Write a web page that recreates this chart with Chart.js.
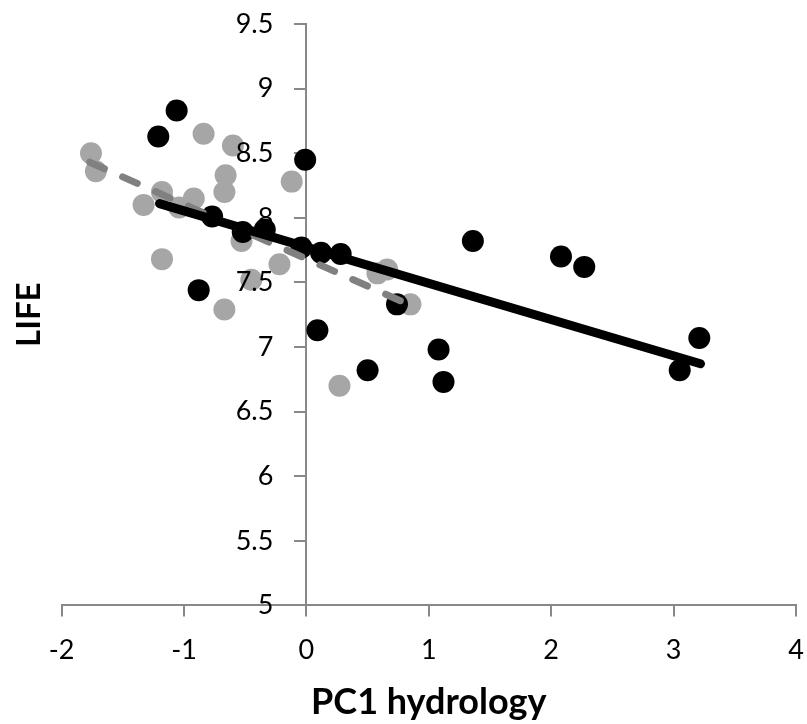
<!DOCTYPE html>
<html>
<head>
<meta charset="utf-8">
<script src="https://cdn.jsdelivr.net/npm/chart.js@4/dist/chart.umd.min.js"></script>
<style>
  body { margin: 0; background: #fff; }
  #wrap { width: 807px; height: 724px; }
</style>
</head>
<body>
<div id="wrap"><canvas id="scatter-chart"></canvas></div>
<script>
'use strict';

// black group
const blackX = [-1.21, -1.06, -0.01, -0.77, -0.52, -0.34, -0.04, 0.12, 0.28, 0.74,
                0.09, 0.50, 1.08, 1.12, 1.36, 2.08, 2.27, 3.21, 3.05, -0.88];
const blackY = [8.63, 8.83, 8.45, 8.01, 7.89, 7.91, 7.77, 7.73, 7.72, 7.33,
                7.13, 6.82, 6.98, 6.73, 7.82, 7.70, 7.62, 7.07, 6.82, 7.44];

// grey group
const greyX = [-1.76, -1.72, -1.33, -1.18, -1.04, -0.92, -0.84, -0.60, -0.66, -0.67,
               -0.12, -1.18, -0.53, -0.22, -0.45, -0.67, 0.27, 0.58, 0.66, 0.85];
const greyY = [8.50, 8.36, 8.10, 8.20, 8.08, 8.15, 8.65, 8.56, 8.33, 8.20,
               8.28, 7.68, 7.82, 7.64, 7.52, 7.29, 6.70, 7.57, 7.60, 7.33];

// trend lines (end points)
const blackTrendX = [-1.20, 3.22];
const blackTrendY = [8.11, 6.87];
const greyTrendX = [-1.77, 0.81];
const greyTrendY = [8.43, 7.34];

const xTicks = [-2, -1, 0, 1, 2, 3, 4];
const yTicks = [5, 5.5, 6, 6.5, 7, 7.5, 8, 8.5, 9, 9.5];

const toPoints = (xs, ys) => xs.map((x, i) => ({x: x, y: ys[i]}));

const AXIS_GREY = '#888888';
Chart.defaults.font.family = 'Lato, "Open Sans", sans-serif';

// chart.js puts labels of an axis placed at {x: 0} right on the line,
// so push them away from the tick marks (and drop the x labels a bit)
const labelShift = {
  id: 'labelShift',
  beforeDraw(chart) {
    const shifts = {x: [0, 18], y: [-33, 0]};
    Object.keys(shifts).forEach(id => {
      const items = chart.scales[id].getLabelItems(chart.chartArea);
      if (items._shifted) return;
      items.forEach(item => {
        const t = item.options.translation;
        item.options.translation = [t[0] + shifts[id][0], t[1] + shifts[id][1]];
      });
      items._shifted = true;
    });
  }
};

const scatterChart = new Chart(document.querySelector('#scatter-chart'), {
  type: 'scatter',
  data: {
    datasets: [
      {
        label: 'grey',
        data: toPoints(greyX, greyY),
        backgroundColor: '#a6a6a6',
        borderWidth: 0,
        pointRadius: 11,
        order: 4
      },
      {
        label: 'black',
        data: toPoints(blackX, blackY),
        backgroundColor: '#000000',
        borderWidth: 0,
        pointRadius: 11,
        order: 3
      },
      {
        type: 'line',
        label: 'grey trend',
        data: toPoints(greyTrendX, greyTrendY),
        borderColor: '#808080',
        borderWidth: 7,
        borderDash: [16, 20],
        borderCapStyle: 'round',
        pointRadius: 0,
        fill: false,
        order: 2
      },
      {
        type: 'line',
        label: 'black trend',
        data: toPoints(blackTrendX, blackTrendY),
        borderColor: '#000000',
        borderWidth: 9,
        borderCapStyle: 'round',
        pointRadius: 0,
        fill: false,
        order: 1
      }
    ]
  },
  plugins: [labelShift],
  options: {
    responsive: true,
    maintainAspectRatio: false,
    animation: false,
    layout: {
      padding: {top: 24, right: 10, left: 10, bottom: 0}
    },
    plugins: {
      legend: {display: false},
      tooltip: {enabled: false}
    },
    scales: {
      x: {
        type: 'linear',
        position: 'bottom',
        min: -2,
        max: 4,
        afterBuildTicks: axis => { axis.ticks = xTicks.map(v => ({value: v})); },
        grid: {
          drawOnChartArea: false,
          drawTicks: true,
          tickLength: 11,
          color: AXIS_GREY,
          lineWidth: 2
        },
        border: {color: AXIS_GREY, width: 2},
        ticks: {
          color: '#000',
          font: {size: 27},
          padding: 0,
          maxRotation: 0
        },
        title: {
          display: true,
          text: 'PC1 hydrology',
          color: '#000',
          font: {size: 36, weight: 'bold'},
          padding: {top: 32, bottom: 0}
        }
      },
      y: {
        type: 'linear',
        position: {x: 0},
        min: 5,
        max: 9.5,
        afterBuildTicks: axis => { axis.ticks = yTicks.map(v => ({value: v})); },
        grid: {
          drawOnChartArea: false,
          drawTicks: true,
          tickLength: 11,
          color: AXIS_GREY,
          lineWidth: 2
        },
        border: {color: AXIS_GREY, width: 2},
        ticks: {
          z: 1, // labels sit on top of the markers
          color: '#000',
          font: {size: 27},
          padding: 0,
          callback: value => value.toString()
        }
      },
      // holds only the left title
      yTitle: {
        type: 'linear',
        position: 'left',
        grid: {display: false},
        border: {display: false},
        ticks: {display: false},
        title: {
          display: true,
          text: 'LIFE',
          color: '#000',
          font: {size: 33, weight: 'bold'},
          padding: {top: 0, bottom: 4}
        }
      }
    }
  }
});
</script>
</body>
</html>
